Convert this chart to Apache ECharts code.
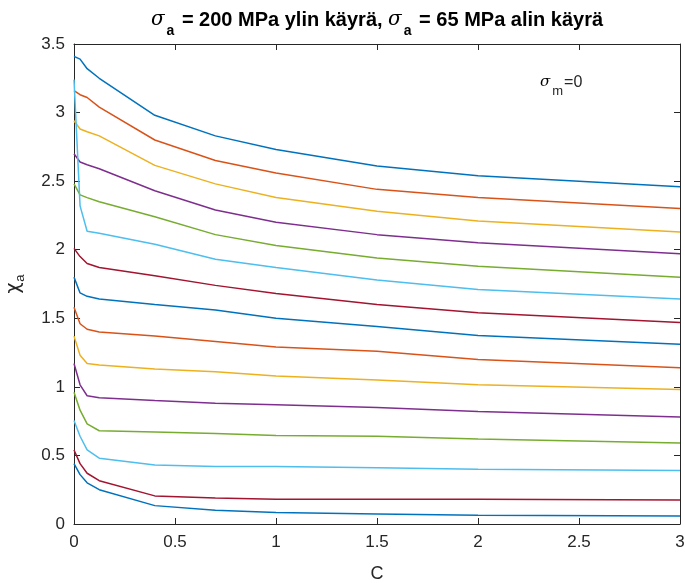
<!DOCTYPE html>
<html>
<head>
<meta charset="utf-8">
<script src="https://cdn.jsdelivr.net/npm/echarts@6/dist/echarts.min.js"></script>
<style>
  html, body { margin: 0; padding: 0; background: #ffffff; }
  #chart { width: 685px; height: 583px; }
</style>
</head>
<body>
<div id="chart"></div>
<script>
// Parameter C (shared x values of every curve)
const C = [0, 0.03, 0.065, 0.125, 0.4, 0.7, 1, 1.5, 2, 3];

// chi_a curves, from sigma_a = 200 MPa (top) down to sigma_a = 65 MPa (bottom)
const curve01 = [3.41, 3.39, 3.32, 3.25, 2.98, 2.83, 2.73, 2.61, 2.54, 2.46];
const curve02 = [3.16, 3.13, 3.11, 3.04, 2.80, 2.65, 2.56, 2.44, 2.38, 2.30];
const curve03 = [2.94, 2.88, 2.86, 2.83, 2.615, 2.48, 2.38, 2.28, 2.21, 2.13];
const curve04 = [2.70, 2.64, 2.62, 2.59, 2.43, 2.29, 2.20, 2.11, 2.05, 1.97];
const curve05 = [2.48, 2.40, 2.38, 2.35, 2.24, 2.11, 2.03, 1.94, 1.88, 1.80];
const curve06 = [3.24, 2.32, 2.135, 2.12, 2.04, 1.93, 1.87, 1.78, 1.71, 1.64];
const curve07 = [2.01, 1.95, 1.90, 1.87, 1.81, 1.74, 1.68, 1.60, 1.54, 1.47];
const curve08 = [1.80, 1.685, 1.66, 1.64, 1.60, 1.56, 1.50, 1.44, 1.375, 1.31];
const curve09 = [1.58, 1.46, 1.42, 1.40, 1.37, 1.33, 1.29, 1.26, 1.20, 1.14];
const curve10 = [1.37, 1.23, 1.17, 1.16, 1.13, 1.11, 1.08, 1.05, 1.015, 0.98];
const curve11 = [1.17, 1.015, 0.935, 0.92, 0.90, 0.88, 0.87, 0.85, 0.82, 0.78];
const curve12 = [0.96, 0.83, 0.73, 0.68, 0.67, 0.66, 0.645, 0.64, 0.62, 0.59];
const curve13 = [0.755, 0.64, 0.54, 0.48, 0.43, 0.42, 0.42, 0.41, 0.40, 0.39];
const curve14 = [0.54, 0.44, 0.37, 0.316, 0.205, 0.19, 0.18, 0.18, 0.18, 0.175];
const curve15 = [0.44, 0.36, 0.30, 0.25, 0.134, 0.10, 0.083, 0.073, 0.063, 0.058];

const curves = [curve01, curve02, curve03, curve04, curve05, curve06, curve07, curve08,
                curve09, curve10, curve11, curve12, curve13, curve14, curve15];

// Default colour order, cycled over the curves
const lineColors = ['#0072BD', '#D95319', '#EDB120', '#7E2F8E', '#77AC30', '#4DBEEE', '#A2142F'];

const axisColor = '#262626';
const fontFam = '"Liberation Sans", Arial, Helvetica, sans-serif';
const symFam = '"DejaVu Serif", serif';

const series = curves.map((vals, i) => ({
  type: 'line',
  data: C.map((c, k) => [c, vals[k]]),
  showSymbol: false,
  symbol: 'none',
  silent: true,
  animation: false,
  lineStyle: { color: lineColors[i % lineColors.length], width: 1.5 },
  itemStyle: { color: lineColors[i % lineColors.length] }
}));

const boxLine = { show: true, onZero: false, lineStyle: { color: axisColor, width: 1 } };
const inTick = { show: true, inside: true, length: 6, lineStyle: { color: axisColor, width: 1 } };

const chart = echarts.init(document.getElementById('chart'), null, { renderer: 'canvas' });
chart.setOption({
  animation: false,
  backgroundColor: '#ffffff',
  textStyle: { fontFamily: fontFam },
  title: {
    left: 377,
    top: 10,
    padding: 0,
    textAlign: 'center',
    text: '{s|σ}{sub|a}{t| = 200 MPa ylin käyrä, }{s|σ}{sub|a}{t| = 65 MPa alin käyrä}',
    textStyle: {
      rich: {
        t: { fontSize: 20, fontWeight: 'bold', color: '#000', fontFamily: fontFam, lineHeight: 28, verticalAlign: 'top' },
        s: { fontSize: 20, fontStyle: 'italic', fontWeight: 'normal', color: '#000', fontFamily: symFam, lineHeight: 28, verticalAlign: 'top' },
        sub: { fontSize: 14, fontWeight: 'bold', color: '#000', fontFamily: fontFam, lineHeight: 28, verticalAlign: 'bottom', padding: [0, 2, 0, 2] }
      }
    }
  },
  grid: { left: 74, right: 5, top: 44, bottom: 59, containLabel: false, outerBoundsMode: 'none' },
  xAxis: [
    {
      type: 'value', min: 0, max: 3, interval: 0.5, position: 'bottom',
      axisLine: boxLine, axisTick: inTick, splitLine: { show: false },
      axisLabel: { color: axisColor, fontSize: 17, margin: 10, fontFamily: fontFam },
      name: 'C', nameLocation: 'middle', nameGap: 41,
      nameTextStyle: { color: axisColor, fontSize: 18, fontFamily: fontFam }
    },
    {
      type: 'value', min: 0, max: 3, interval: 0.5, position: 'top',
      axisLine: boxLine, axisTick: inTick, splitLine: { show: false },
      axisLabel: { show: false }
    }
  ],
  yAxis: [
    {
      type: 'value', min: 0, max: 3.5, interval: 0.5, position: 'left',
      axisLine: boxLine, axisTick: inTick, splitLine: { show: false },
      axisLabel: { color: axisColor, fontSize: 17, margin: 9, fontFamily: fontFam },
      name: '{c|χ}{sub|a}', nameLocation: 'middle', nameGap: 47, nameRotate: 90,
      nameTextStyle: {
        rich: {
          c: { fontSize: 19, color: axisColor, fontFamily: '"DejaVu Sans", sans-serif', lineHeight: 22, verticalAlign: 'top' },
          sub: { fontSize: 13, color: axisColor, fontFamily: fontFam, lineHeight: 22, verticalAlign: 'bottom', padding: [0, 0, 0, 1] }
        }
      }
    },
    {
      type: 'value', min: 0, max: 3.5, interval: 0.5, position: 'right',
      axisLine: boxLine, axisTick: inTick, splitLine: { show: false },
      axisLabel: { show: false }
    }
  ],
  graphic: [
    {
      type: 'text',
      left: 540,
      top: 75,
      style: {
        text: '{s|σ}{sub|m}{t|=0}',
        rich: {
          s: { fontSize: 15, fontStyle: 'italic', fill: '#000', fontFamily: symFam, lineHeight: 23, verticalAlign: 'top' },
          sub: { fontSize: 13, fill: axisColor, fontFamily: fontFam, lineHeight: 23, verticalAlign: 'bottom', padding: [0, 1, 0, 2] },
          t: { fontSize: 16, fill: axisColor, fontFamily: fontFam, lineHeight: 23, verticalAlign: 'top' }
        }
      }
    }
  ],
  series: series
});
</script>
</body>
</html>
